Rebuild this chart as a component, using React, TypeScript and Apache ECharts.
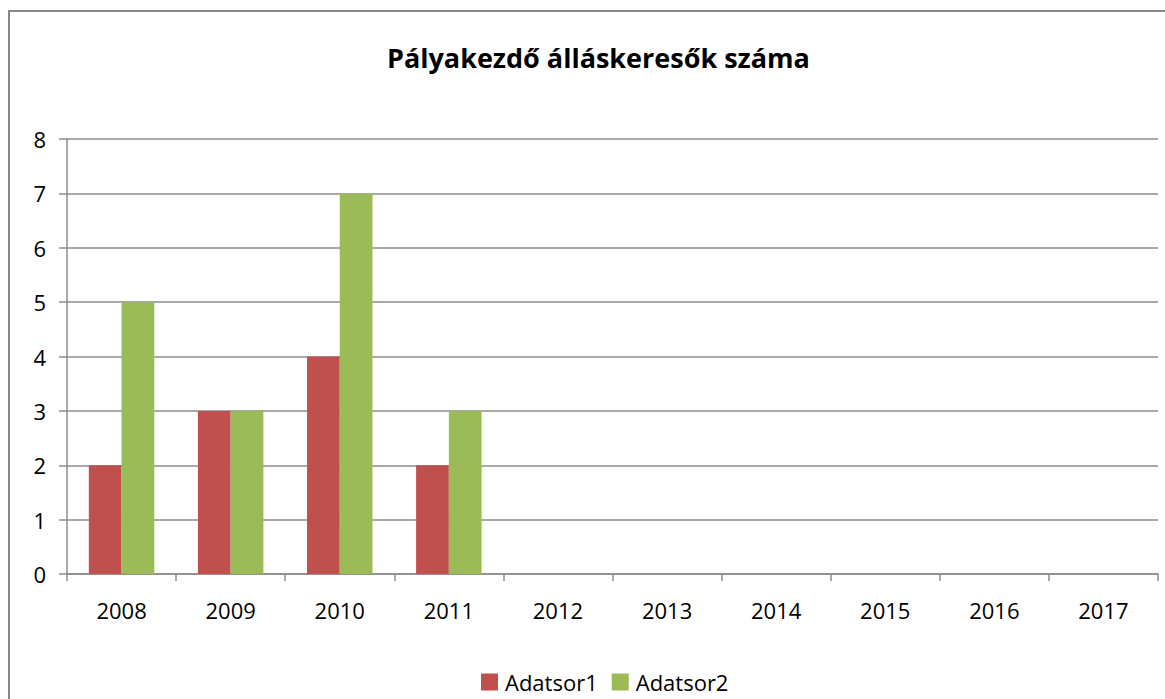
import React, { useEffect, useRef } from "react";
import * as echarts from "echarts";

const categories = ["2008", "2009", "2010", "2011", "2012", "2013", "2014", "2015", "2016", "2017"];
const series1 = [2, 3, 4, 2, null, null, null, null, null, null];
const series2 = [5, 3, 7, 3, null, null, null, null, null, null];
const seriesNames = ["Adatsor1", "Adatsor2"];
const titleText = "Pályakezdő álláskeresők száma";

const FONT = "'Open Sans', sans-serif";

export default function App() {
  const ref = useRef<HTMLDivElement>(null);
  useEffect(() => {
    const chart = echarts.init(ref.current!, null, { renderer: "svg" });
    const gridLine = { color: "#8c8c8c", width: 1.5 };
    chart.setOption({
      animation: false,
      backgroundColor: "#ffffff",
      title: {
        text: titleText,
        left: 382,
        top: 39,
        textStyle: { fontFamily: FONT, fontSize: 27, fontWeight: "bold", color: "#000" },
      },
      legend: {
        left: 476,
        top: 666,
        itemWidth: 17,
        itemHeight: 17,
        itemGap: 14,
        icon: "rect",
        textStyle: { fontFamily: FONT, fontSize: 22, color: "#000", padding: [0, 0, 0, 2] },
        data: seriesNames,
      },
      graphic: [
        {
          type: "polyline",
          shape: { points: [[9, 720], [9, 11], [1200, 11]] },
          style: { stroke: "#878787", lineWidth: 2, fill: "none" },
          silent: true,
        },
      ],
      grid: { left: 67, right: 7, top: 139, bottom: 125, containLabel: false },
      xAxis: {
        type: "category",
        data: categories,
        axisLine: { lineStyle: gridLine },
        axisTick: { show: true, length: 7, lineStyle: gridLine },
        axisLabel: { fontFamily: FONT, fontSize: 22, color: "#000", margin: 25 },
      },
      yAxis: {
        type: "value",
        min: 0,
        max: 8,
        interval: 1,
        axisLine: { show: true, lineStyle: gridLine },
        axisTick: { show: true, length: 8, lineStyle: gridLine },
        splitLine: { show: true, lineStyle: gridLine },
        axisLabel: { fontFamily: FONT, fontSize: 22, color: "#000", margin: 21 },
      },
      series: [
        {
          name: seriesNames[0],
          type: "bar",
          data: series1,
          itemStyle: { color: "#C0504D" },
          barGap: "0%",
          barCategoryGap: "40%",
        },
        {
          name: seriesNames[1],
          type: "bar",
          data: series2,
          itemStyle: { color: "#9BBB59" },
          barGap: "0%",
          barCategoryGap: "40%",
        },
      ],
    });
    return () => chart.dispose();
  }, []);
  return (
    <div
      ref={ref}
      style={{ position: "absolute", left: 0, top: 0, width: 1165, height: 699 }}
    />
  );
}
